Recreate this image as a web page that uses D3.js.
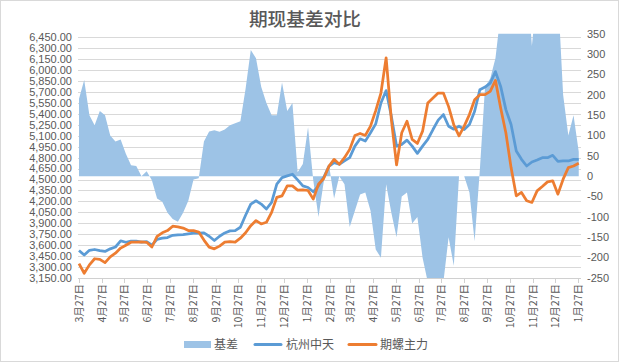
<!DOCTYPE html>
<html>
<head>
<meta charset="utf-8">
<script src="https://cdn.jsdelivr.net/npm/d3@7/dist/d3.min.js"></script>
<style>
  body { margin: 0; background: #fff; }
  text { font-family: "Liberation Sans", Arial, sans-serif; fill: #595959; }
  .cjk { font-family: "Noto Sans CJK SC", sans-serif; }
</style>
</head>
<body>
<div id="chart"></div>
<script>
// weekly samples starting 2020-03-27
var startDate = "2020-03-27";

var tickDates = ["2020-03-27","2020-04-27","2020-05-27","2020-06-27","2020-07-27","2020-08-27",
  "2020-09-27","2020-10-27","2020-11-27","2020-12-27","2021-01-27","2021-02-27","2021-03-27",
  "2021-04-27","2021-05-27","2021-06-27","2021-07-27","2021-08-27","2021-09-27","2021-10-27",
  "2021-11-27","2021-12-27","2022-01-27"];

var leftTicks = d3.range(3150, 6451, 150);
var rightTicks = [-250, -200, -150, -100, -50, 0, 50, 100, 150, 200, 250, 300, 350];

// 杭州中天
var spot = [3528,3465,3530,3541,3525,3514,3550,3575,3660,3640,3655,3655,3641,3650,3600,3680,
  3696,3705,3735,3741,3745,3755,3764,3766,3768,3723,3664,3723,3768,3796,3800,3846,4010,4164,
  4209,4164,4096,4186,4437,4527,4550,4573,4496,4414,4391,4332,4414,4527,4680,4732,4709,4755,
  4800,4959,5059,5027,5141,5264,5550,5720,5368,4959,4982,5041,4959,4859,4959,5050,5186,5314,
  5391,5230,5190,5232,5186,5255,5436,5732,5768,5823,5980,5777,5459,5255,4891,4777,4686,4741,
  4768,4800,4800,4832,4750,4755,4755,4777,4777];

// 期螺主力
var futures = [3346,3215,3330,3414,3405,3360,3440,3490,3560,3600,3641,3641,3645,3640,3575,3720,
  3770,3800,3860,3850,3835,3800,3800,3780,3670,3573,3550,3587,3641,3650,3641,3696,3770,3868,
  3937,3891,3914,4050,4255,4277,4414,4414,4355,4359,4350,4232,4436,4514,4680,4777,4709,4800,
  4914,5105,5132,5105,5232,5446,5686,6170,5323,4700,5141,5300,5050,4995,5164,5550,5618,5686,
  5686,5500,5250,5100,5232,5391,5595,5664,5664,5709,5860,5482,5141,4664,4277,4323,4209,4186,
  4345,4405,4468,4482,4300,4505,4664,4686,4723];

// 基差
var basis = [190,236,150,125,160,150,100,85,90,55,27,25,0,12,-10,-55,-63,-90,-105,-112,-90,-60,
  -8,-5,85,110,113,109,115,125,130,135,215,310,290,220,180,150,150,230,160,180,10,30,120,-10,
  -100,-15,30,-55,0,-20,-125,-85,-45,-40,-85,-180,-200,-20,-90,-150,-50,-40,-116,-100,-200,-260,
  -260,-260,-260,-150,-220,0,0,-40,-160,15,220,240,290,400,450,500,600,600,500,320,450,400,380,
  400,450,200,100,150,60];

var w = 619, h = 362;
var plotL = 78, plotR = 581, plotT = 33.7, plotB = 278;

var parse = d3.utcParse("%Y-%m-%d");
var start = parse(startDate);
var dates = spot.map(function(d, i) { return d3.utcDay.offset(start, 7 * i); });

var svg = d3.select("#chart").append("svg")
  .attr("width", w)
  .attr("height", h);

svg.append("rect")
  .attr("x", 0.5).attr("y", 0.5)
  .attr("width", w - 1).attr("height", h - 1)
  .attr("fill", "#fff").attr("stroke", "#d9d9d9");

var x = d3.scaleUtc().domain([parse(tickDates[0]), parse(tickDates[tickDates.length - 1])]).range([79, 578]);
var yL = d3.scaleLinear().domain([3150, 6500]).range([plotB, plotT]);
var yR = d3.scaleLinear().domain([-250, 350]).range([plotB, plotT]);

// gridlines
svg.append("g").selectAll("line")
  .data(leftTicks)
  .join("line")
  .attr("x1", plotL).attr("x2", plotR)
  .attr("y1", function(d) { return Math.round(yL(d)) + 0.5; })
  .attr("y2", function(d) { return Math.round(yL(d)) + 0.5; })
  .attr("stroke", "#d9d9d9");

svg.append("clipPath").attr("id", "plot")
  .append("rect").attr("x", plotL).attr("y", plotT).attr("width", plotR - plotL).attr("height", plotB - plotT);

var area = d3.area()
  .x(function(d, i) { return x(dates[i]); })
  .y0(yR(0))
  .y1(function(d) { return yR(d); });

svg.append("path")
  .attr("d", area(basis))
  .attr("fill", "#9dc3e6")
  .attr("clip-path", "url(#plot)");

var line = d3.line()
  .x(function(d, i) { return x(dates[i]); })
  .y(function(d) { return yL(d); });

svg.append("path")
  .attr("d", line(spot))
  .attr("fill", "none")
  .attr("stroke", "#5b9bd5")
  .attr("stroke-width", 2.75)
  .attr("stroke-linejoin", "round");

svg.append("path")
  .attr("d", line(futures))
  .attr("fill", "none")
  .attr("stroke", "#ed7d31")
  .attr("stroke-width", 2.75)
  .attr("stroke-linejoin", "round");

// x axis
svg.append("line")
  .attr("x1", plotL).attr("x2", plotR)
  .attr("y1", plotB + 0.5).attr("y2", plotB + 0.5)
  .attr("stroke", "#d0d0d0");

var fmtDate = d3.utcFormat("%-m月%-d日");
var xt = svg.append("g").selectAll("g")
  .data(tickDates)
  .join("g")
  .attr("transform", function(d) { return "translate(" + (Math.round(x(parse(d))) + 0.5) + ",0)"; });
xt.append("line")
  .attr("y1", plotB).attr("y2", plotB + 5)
  .attr("stroke", "#d0d0d0");
xt.append("text")
  .attr("class", "cjk")
  .attr("transform", "translate(0," + (plotB + 6) + ") rotate(-90)")
  .attr("dy", "0.35em")
  .attr("text-anchor", "end")
  .attr("font-size", "10.5px")
  .text(function(d) { return fmtDate(parse(d)); });

// left axis labels
var fmtL = d3.format(",.2f");
svg.append("g").selectAll("text")
  .data(leftTicks)
  .join("text")
  .attr("x", 72)
  .attr("y", function(d) { return yL(d); })
  .attr("dy", "0.35em")
  .attr("text-anchor", "end")
  .attr("font-size", "11px")
  .text(function(d) { return fmtL(d); });

// right axis labels
svg.append("g").selectAll("text")
  .data(rightTicks)
  .join("text")
  .attr("x", 587)
  .attr("y", function(d) { return yR(d); })
  .attr("dy", "0.35em")
  .attr("font-size", "11px")
  .text(function(d) { return d; });

// title
svg.append("text")
  .attr("class", "cjk")
  .attr("x", 305).attr("y", 26)
  .attr("text-anchor", "middle")
  .attr("font-size", "18.7px")
  .attr("font-weight", 500)
  .text("期现基差对比");

// legend
var legend = svg.append("g");
legend.append("rect")
  .attr("x", 184).attr("y", 341).attr("width", 27).attr("height", 7)
  .attr("fill", "#9dc3e6");
legend.append("text").attr("class", "cjk")
  .attr("x", 214).attr("y", 348.5).attr("font-size", "12px").text("基差");
legend.append("line")
  .attr("x1", 255).attr("x2", 281).attr("y1", 344.5).attr("y2", 344.5)
  .attr("stroke", "#5b9bd5").attr("stroke-width", 3).attr("stroke-linecap", "round");
legend.append("text").attr("class", "cjk")
  .attr("x", 286).attr("y", 348.5).attr("font-size", "12px").text("杭州中天");
legend.append("line")
  .attr("x1", 349).attr("x2", 376).attr("y1", 344.5).attr("y2", 344.5)
  .attr("stroke", "#ed7d31").attr("stroke-width", 3).attr("stroke-linecap", "round");
legend.append("text").attr("class", "cjk")
  .attr("x", 380).attr("y", 348.5).attr("font-size", "12px").text("期螺主力");
</script>
</body>
</html>
